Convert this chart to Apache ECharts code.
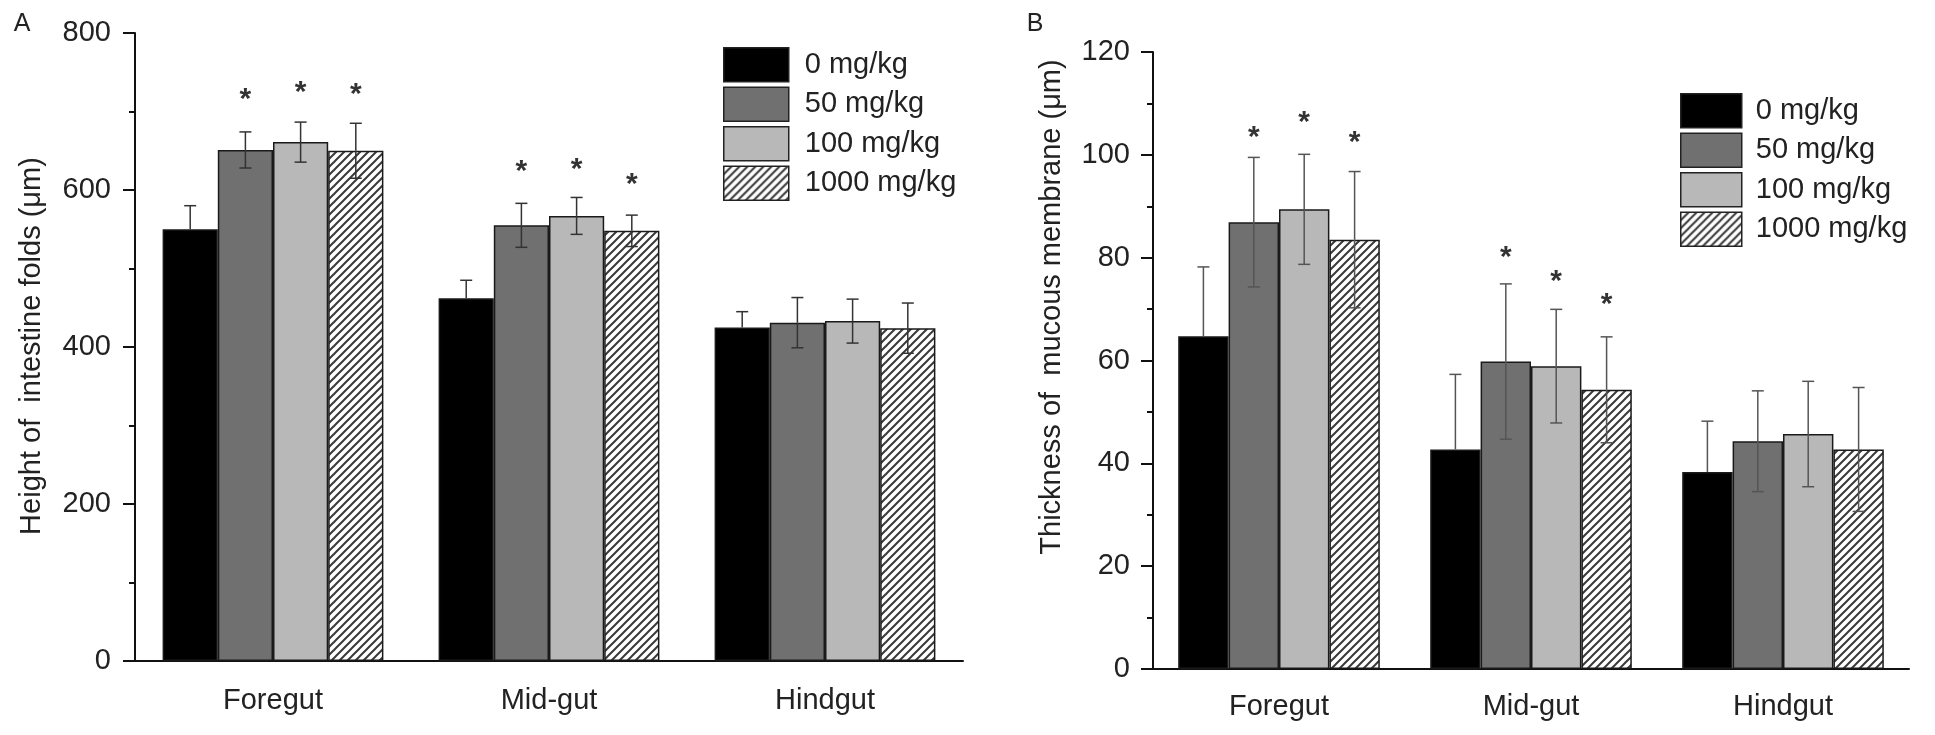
<!DOCTYPE html>
<html>
<head>
<meta charset="utf-8">
<script src="https://cdn.jsdelivr.net/npm/echarts@6/dist/echarts.min.js"></script>
<style>
html,body{margin:0;padding:0;background:#fff;}
#chart{width:1935px;height:735px;}
</style>
</head>
<body>
<div id="chart"></div>
<script>
// ---------- data ----------
const categories = ['Foregut', 'Mid-gut', 'Hindgut'];
const doses = ['0 mg/kg', '50 mg/kg', '100 mg/kg', '1000 mg/kg'];

// Panel A: height of intestine folds (μm)
const A_mean_0 = [550, 462, 425];
const A_mean_50 = [651, 555, 431];
const A_mean_100 = [661, 567, 433];
const A_mean_1000 = [650, 548, 424];
const A_sd_0 = [30, 23, 20];
const A_sd_50 = [23, 28, 32];
const A_sd_100 = [25.5, 23.5, 28];
const A_sd_1000 = [35, 20, 32];
const A_star_0 = [null, null, null];
const A_star_50 = [722, 631, null];
const A_star_100 = [732, 633, null];
const A_star_1000 = [729, 614, null];
const A_ticks = [0, 200, 400, 600, 800];

// Panel B: thickness of mucous membrane (μm)
const B_mean_0 = [64.7, 42.7, 38.3];
const B_mean_50 = [86.9, 59.8, 44.3];
const B_mean_100 = [89.4, 58.9, 45.7];
const B_mean_1000 = [83.5, 54.3, 42.7];
const B_sd_0 = [13.5, 14.6, 9.9];
const B_sd_50 = [12.6, 15.1, 9.8];
const B_sd_100 = [10.7, 11.05, 10.25];
const B_sd_1000 = [13.25, 10.3, 12.05];
const B_star_0 = [null, null, null];
const B_star_50 = [104.4, 81.1, null];
const B_star_100 = [107.5, 76.4, null];
const B_star_1000 = [103.6, 72.0, null];
const B_ticks = [0, 20, 40, 60, 80, 100, 120];

// ---------- styles ----------
const FONT = 'Liberation Sans, Arial, Helvetica, sans-serif';
const TXT = '#222';
const FS = 29;

function hatch() {
  const s = 8;
  const c = document.createElement('canvas');
  c.width = s; c.height = s;
  const g = c.getContext('2d');
  g.fillStyle = '#fff';
  g.fillRect(0, 0, s, s);
  g.strokeStyle = '#3a3a3a';
  g.lineWidth = 2;
  g.beginPath();
  g.moveTo(-1, s + 1); g.lineTo(s + 1, -1);
  g.moveTo(-1, 1); g.lineTo(1, -1);
  g.moveTo(s - 1, s + 1); g.lineTo(s + 1, s - 1);
  g.stroke();
  return c;
}
const fills = ['#000000', '#707070', '#b8b8b8', { image: hatch(), repeat: 'repeat' }];

const means = {
  A: [A_mean_0, A_mean_50, A_mean_100, A_mean_1000],
  B: [B_mean_0, B_mean_50, B_mean_100, B_mean_1000]
};
const sds = {
  A: [A_sd_0, A_sd_50, A_sd_100, A_sd_1000],
  B: [B_sd_0, B_sd_50, B_sd_100, B_sd_1000]
};
const stars = {
  A: [A_star_0, A_star_50, A_star_100, A_star_1000],
  B: [B_star_0, B_star_50, B_star_100, B_star_1000]
};

function barSeries(panel, idx) {
  const list = [];
  for (let j = 0; j < 4; j++) {
    list.push({
      name: doses[j],
      type: 'bar',
      xAxisIndex: idx * 2,
      yAxisIndex: idx,
      data: means[panel][j],
      barGap: '0%',
      barCategoryGap: '20%',
      itemStyle: { color: fills[j], borderColor: '#1a1a1a', borderWidth: 1.5 },
      emphasis: { disabled: true },
      z: 2
    });
  }
  return list;
}

function errSeries(panel, idx, lineColor) {
  const data = [];
  for (let j = 0; j < 4; j++) {
    for (let c = 0; c < categories.length; c++) {
      const st = stars[panel][j][c];
      data.push([c, j, means[panel][j][c], sds[panel][j][c], st === null ? -1 : st]);
    }
  }
  return {
    type: 'custom',
    name: 'err' + panel,
    xAxisIndex: idx * 2,
    yAxisIndex: idx,
    z: 5,
    silent: true,
    data: data,
    renderItem: function (params, api) {
      const c = api.value(0), j = api.value(1), m = api.value(2), sd = api.value(3), st = api.value(4);
      const catW = api.size([1, 0])[0];
      const barW = catW * 0.8 / 4;
      const cx = api.coord([c, 0])[0] + (j - 1.5) * barW;
      const yt = api.coord([c, m + sd])[1];
      const ym = api.coord([c, m])[1];
      const yb = api.coord([c, m - sd])[1];
      const cap = 6;
      const ls = { stroke: lineColor, lineWidth: 1.5 };
      const children = [
        { type: 'line', shape: { x1: cx, y1: yt, x2: cx, y2: ym }, style: ls },
        { type: 'line', shape: { x1: cx - cap, y1: yt, x2: cx + cap, y2: yt }, style: ls }
      ];
      if (j > 0) {
        children.push({ type: 'line', shape: { x1: cx, y1: ym, x2: cx, y2: yb }, style: ls });
        children.push({ type: 'line', shape: { x1: cx - cap, y1: yb, x2: cx + cap, y2: yb }, style: ls });
      }
      if (st > 0) {
        const ys = api.coord([c, st])[1];
        children.push({
          type: 'text',
          style: { text: '*', x: cx, y: ys + 6, fill: '#333', fontSize: 30, fontWeight: 'bold', fontFamily: FONT, align: 'center', verticalAlign: 'middle' }
        });
      }
      return { type: 'group', children: children };
    }
  };
}

function xAxes(gridIndex, margin) {
  return [
    {
      type: 'category', gridIndex: gridIndex, data: categories,
      axisLine: { lineStyle: { color: '#111', width: 2 } },
      axisTick: { alignWithLabel: true, length: 12, lineStyle: { color: '#111', width: 2 } },
      axisLabel: { color: TXT, fontSize: FS, fontFamily: FONT, margin: margin }
    },
    {
      type: 'category', gridIndex: gridIndex, data: categories, position: 'bottom',
      axisLine: { show: false },
      axisTick: { alignWithLabel: false, length: 6, lineStyle: { color: '#111', width: 2 } },
      axisLabel: { show: false }
    }
  ];
}

function yAxis(gridIndex, ticks, margin) {
  return {
    type: 'value', gridIndex: gridIndex,
    min: ticks[0], max: ticks[ticks.length - 1], interval: ticks[1] - ticks[0],
    axisLine: { show: true, lineStyle: { color: '#111', width: 2 } },
    axisTick: { show: true, length: 12, lineStyle: { color: '#111', width: 2 } },
    minorTick: { show: true, splitNumber: 2, length: 6, lineStyle: { color: '#111', width: 2 } },
    splitLine: { show: false },
    axisLabel: { color: TXT, fontSize: FS, fontFamily: FONT, margin: margin }
  };
}

function legend(left, top, w, pad) {
  return {
    data: doses, orient: 'vertical', left: left, top: top,
    itemWidth: w, itemHeight: 34, itemGap: 4, icon: 'rect',
    selectedMode: false,
    itemStyle: { borderColor: '#222', borderWidth: 1.5 },
    textStyle: { color: TXT, fontSize: FS, fontFamily: FONT, padding: [0, 0, 0, pad] }
  };
}

const chart = echarts.init(document.getElementById('chart'), null, { renderer: 'canvas' });
chart.setOption({
  backgroundColor: '#fff',
  animation: false,
  textStyle: { fontFamily: FONT },
  grid: [
    { left: 135, top: 33, width: 828, height: 628 },
    { left: 1153, top: 52, width: 756, height: 617 }
  ],
  legend: [legend(718, 42, 65, 11), legend(1675, 88, 61, 9)],
  xAxis: xAxes(0, 25).concat(xAxes(1, 23)),
  yAxis: [yAxis(0, A_ticks, 24), yAxis(1, B_ticks, 23)],
  series: barSeries('A', 0).concat([errSeries('A', 0, '#333')])
    .concat(barSeries('B', 1)).concat([errSeries('B', 1, '#555')]),
  graphic: [
    { type: 'text', x: 22, y: 24, style: { text: 'A', fontSize: 25, fontFamily: FONT, fill: TXT, align: 'center', verticalAlign: 'middle' } },
    { type: 'text', x: 1035, y: 24, style: { text: 'B', fontSize: 25, fontFamily: FONT, fill: TXT, align: 'center', verticalAlign: 'middle' } },
    { type: 'text', x: 32, y: 346, rotation: Math.PI / 2, style: { text: 'Height of  intestine folds (μm)', fontSize: FS, fontFamily: FONT, fill: TXT, align: 'center', verticalAlign: 'middle' } },
    { type: 'text', x: 1052, y: 307, rotation: Math.PI / 2, style: { text: 'Thickness of  mucous membrane (μm)', fontSize: FS, fontFamily: FONT, fill: TXT, align: 'center', verticalAlign: 'middle' } }
  ]
});
</script>
</body>
</html>
